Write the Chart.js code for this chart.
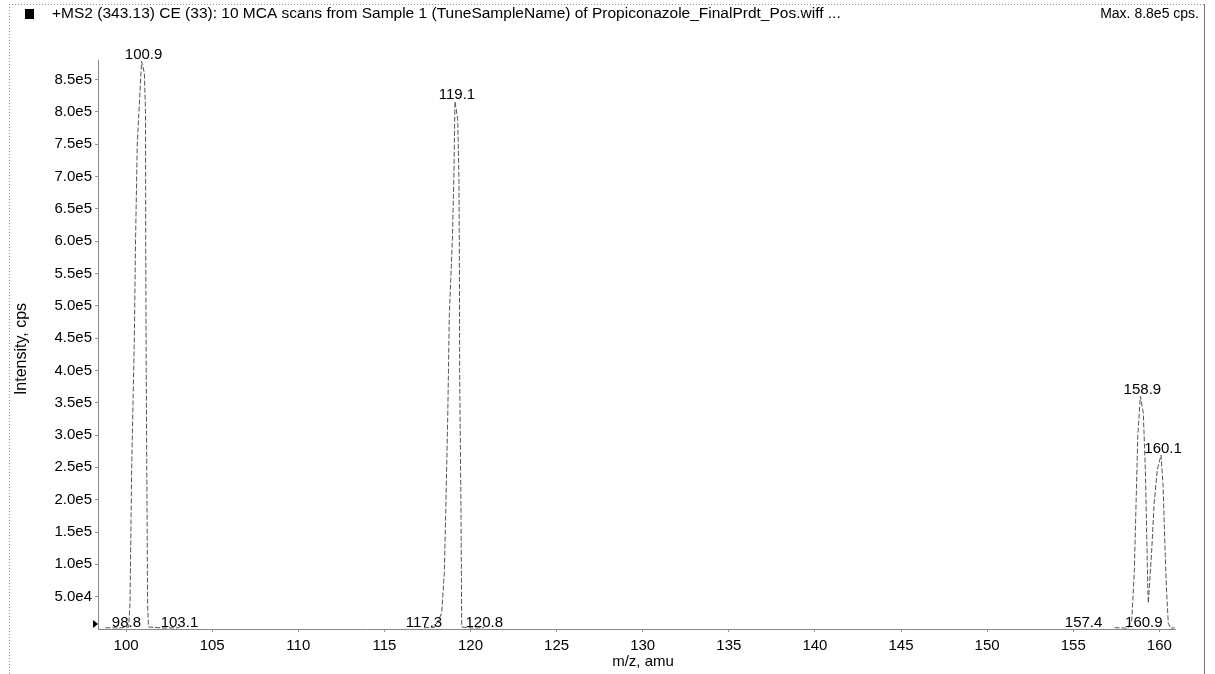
<!DOCTYPE html>
<html>
<head>
<meta charset="utf-8">
<script src="https://cdn.jsdelivr.net/npm/chart.js"></script>
<style>
  html, body { margin: 0; padding: 0; background: #fff; }
  #spec { display: block; }
</style>
</head>
<body>
<canvas id="spec" width="1215" height="674"></canvas>
<script>
// MS2 product scan of 343.13, three acquired m/z windows (profile points, cps)
const win1Mz  = [98.8, 99.6, 100.15, 100.23, 100.32, 100.48, 100.55, 100.65, 100.9, 101.06, 101.13, 101.14, 101.17, 101.25, 101.3, 102.2, 103.1];
const win1Int = [2000, 1500, 3000, 40000, 240000, 450000, 600000, 750000, 878000, 860000, 800000, 600000, 400000, 40000, 3000, 1500, 2000];

const win2Mz  = [117.3, 117.9, 118.15, 118.33, 118.48, 118.56, 118.68, 118.77, 118.95, 119.04, 119.1, 119.26, 119.33, 119.36, 119.37, 119.45, 119.49, 120.1, 120.8];
const win2Int = [2000, 2500, 14000, 25000, 87000, 179000, 330000, 485000, 603000, 706000, 816000, 788000, 695000, 540000, 400000, 179000, 3000, 1500, 2000];

const win3Mz  = [157.4, 158.0, 158.17, 158.4, 158.55, 158.65, 158.75, 158.9, 159.07, 159.19, 159.27, 159.33, 159.36, 159.55, 159.7, 159.88, 160.1, 160.22, 160.31, 160.41, 160.52, 160.66, 160.9];
const win3Int = [2000, 1500, 1000, 14000, 91000, 195000, 299000, 360000, 334000, 245000, 142000, 65000, 40000, 118000, 195000, 246000, 269000, 220000, 142000, 65000, 9000, 1000, 2000];

// labelled centroids and window limits
const peakMz  = [100.9, 119.1, 158.9, 160.1];
const peakInt = [878000, 816000, 360000, 269000];
const edgeMz  = [98.8, 103.1, 117.3, 120.8, 157.4, 160.9];

const xTicks = [100, 105, 110, 115, 120, 125, 130, 135, 140, 145, 150, 155, 160];
const yTicks = [50000, 100000, 150000, 200000, 250000, 300000, 350000, 400000, 450000,
                500000, 550000, 600000, 650000, 700000, 750000, 800000, 850000];

const titleText = '+MS2 (343.13) CE (33): 10 MCA scans from Sample 1 (TuneSampleName) of Propiconazole_FinalPrdt_Pos.wiff ...';
const maxText = 'Max. 8.8e5 cps.';

const FONT = "'Liberation Sans', Arial, sans-serif";
// edge labels that the software moves sideways so they don't collide
const edgeShift = { 98.8: 21, 157.4: -31, 160.9: -31 };

function pts(xs, ys) { return xs.map((x, i) => ({ x: x, y: ys[i] })); }

function sci(v) {
  const e = Math.floor(Math.log10(v));
  return (v / Math.pow(10, e)).toFixed(1) + 'e' + e;
}

const lineStyle = {
  borderColor: '#555',
  borderWidth: 1,
  borderDash: [5, 2],
  pointRadius: 0,
  tension: 0,
  fill: false
};

const decor = {
  id: 'decor',
  afterDraw(chart) {
    const ctx = chart.ctx;
    const xs = chart.scales.x, ys = chart.scales.y;
    ctx.save();

    // panel frame
    ctx.strokeStyle = '#999';
    ctx.lineWidth = 1;
    ctx.setLineDash([1, 2]);
    ctx.beginPath();
    ctx.moveTo(9, 4.5); ctx.lineTo(1204, 4.5);
    ctx.moveTo(9.5, 4); ctx.lineTo(9.5, 674);
    ctx.stroke();
    ctx.setLineDash([]);
    ctx.strokeStyle = '#777';
    ctx.beginPath();
    ctx.moveTo(1204.5, 4); ctx.lineTo(1204.5, 674);
    ctx.stroke();

    // header
    ctx.fillStyle = '#000';
    ctx.fillRect(25, 9, 9, 10);
    ctx.textBaseline = 'middle';
    ctx.textAlign = 'left';
    ctx.font = '15.5px ' + FONT;
    ctx.fillText(titleText, 52, 14);
    ctx.textAlign = 'right';
    ctx.font = '14px ' + FONT;
    ctx.fillText(maxText, 1199, 14);

    // axis titles
    ctx.font = '15px ' + FONT;
    ctx.textAlign = 'center';
    ctx.fillText('m/z, amu', 643, 662);
    ctx.save();
    ctx.translate(22, 349);
    ctx.rotate(-Math.PI / 2);
    ctx.font = '16px ' + FONT;
    ctx.fillText('Intensity, cps', 0, 0);
    ctx.restore();

    // zero marker on the intensity axis
    const y0 = ys.getPixelForValue(0);
    ctx.beginPath();
    ctx.moveTo(93, y0 - 9);
    ctx.lineTo(98, y0 - 5);
    ctx.lineTo(93, y0 - 1);
    ctx.closePath();
    ctx.fill();

    // peak labels
    ctx.textBaseline = 'bottom';
    peakMz.forEach((m, i) => {
      ctx.fillText(m.toFixed(1), xs.getPixelForValue(m) + 2, ys.getPixelForValue(peakInt[i]) + 1);
    });
    edgeMz.forEach(m => {
      const dx = edgeShift[m] || 0;
      ctx.fillText(m.toFixed(1), xs.getPixelForValue(m) + dx, y0 + 1);
    });
    ctx.restore();
  }
};

new Chart(document.getElementById('spec'), {
  type: 'line',
  data: {
    datasets: [
      Object.assign({ data: pts(win1Mz, win1Int) }, lineStyle),
      Object.assign({ data: pts(win2Mz, win2Int) }, lineStyle),
      Object.assign({ data: pts(win3Mz, win3Int) }, lineStyle)
    ]
  },
  options: {
    responsive: false,
    animation: false,
    layout: { padding: { left: 0, top: 60, right: 40, bottom: 0 } },
    plugins: { legend: { display: false }, tooltip: { enabled: false } },
    scales: {
      x: {
        type: 'linear',
        min: 98.37,
        max: 160.91,
        afterBuildTicks: s => { s.ticks = xTicks.map(v => ({ value: v })); },
        afterFit: s => { s.height = 45; },
        ticks: { color: '#000', font: { size: 15, family: FONT }, padding: 5, maxRotation: 0,
                 callback: v => String(v) },
        grid: { drawOnChartArea: false, tickLength: 3, color: '#999' },
        border: { color: '#888', dash: [1, 2] }
      },
      y: {
        min: 0,
        max: 880000,
        afterBuildTicks: s => { s.ticks = yTicks.map(v => ({ value: v })); },
        afterFit: s => { s.width = 98; },
        ticks: { color: '#000', font: { size: 15, family: FONT }, padding: 3,
                 callback: v => sci(v) },
        grid: { drawOnChartArea: false, tickLength: 3, color: '#999' },
        border: { color: '#888', dash: [1, 2] }
      }
    }
  },
  plugins: [decor]
});
</script>
</body>
</html>
